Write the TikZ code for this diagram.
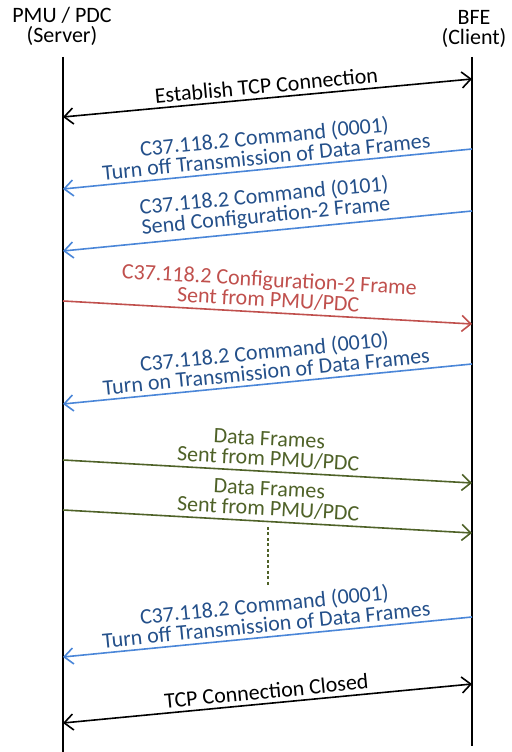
\documentclass[tikz,border=0pt]{standalone}
\usepackage{fontspec}
\setmainfont{Carlito}
\usetikzlibrary{arrows.meta}
\definecolor{cmdline}{HTML}{4A86D8}
\definecolor{cmdtext}{HTML}{24508A}
\definecolor{cfgred}{HTML}{C0504D}
\definecolor{datagreen}{HTML}{4F6228}
\newcommand\msgfont{\fontsize{22bp}{20bp}\selectfont\lineskiplimit=-20bp\relax}
\begin{document}
\begin{tikzpicture}[>={Straight Barb[length=9bp,width=16bp]},line join=bevel,
  font=\msgfont,
  life/.style={black,line width=1.6bp},
  msg/.style={line width=1.6bp},
  lbl/.style={midway,sloped,above,align=center,inner sep=4bp},
  cmd/.style={msg,cmdline,->},
  cfg/.style={msg,cfgred,->},
  dat/.style={msg,datagreen,->},
  tcp/.style={msg,black,<->},
]
%%
\useasboundingbox (0bp,0bp) rectangle (512bp,752bp);
\node (pmu) at (62bp,726bp) [align=center] {PMU / PDC\\(Server)};
  \node (bfe) at (474bp,723bp) [align=center] {BFE\\(Client)};
%
\coordinate (pmu_top) at (63bp,695bp);
  \coordinate (pmu_bot) at (63bp,0bp);
  \coordinate (bfe_top) at (472bp,695bp);
  \coordinate (bfe_bot) at (472bp,6bp);
  \draw [life] (pmu_top) -- (pmu_bot);
  \draw [life] (bfe_top) -- (bfe_bot);
%
\coordinate (pmu_1) at (63bp,635bp);   \coordinate (bfe_1) at (472bp,673bp);
  \coordinate (bfe_2) at (472bp,603bp);  \coordinate (pmu_2) at (63bp,563bp);
  \coordinate (bfe_3) at (472bp,541bp);  \coordinate (pmu_3) at (63bp,501bp);
  \coordinate (pmu_4) at (63bp,451bp);   \coordinate (bfe_4) at (472bp,428bp);
  \coordinate (bfe_5) at (472bp,388bp);  \coordinate (pmu_5) at (63bp,348bp);
  \coordinate (pmu_6) at (63bp,292bp);   \coordinate (bfe_6) at (472bp,269bp);
  \coordinate (pmu_7) at (63bp,242bp);   \coordinate (bfe_7) at (472bp,219bp);
  \coordinate (bfe_9) at (472bp,135bp);  \coordinate (pmu_9) at (63bp,95bp);
  \coordinate (pmu_10) at (63bp,29bp);   \coordinate (bfe_10) at (472bp,68bp);
  \coordinate (dots_top) at (268bp,225bp);
  \coordinate (dots_bot) at (268bp,165bp);
%
\draw [tcp] (pmu_1) -- (bfe_1) node [lbl] (msg_1) {Establish TCP Connection};
  \draw [cmd] (bfe_2) -- (pmu_2) node [lbl,text=cmdtext] (msg_2) {C37.118.2 Command (0001)\\Turn off Transmission of Data Frames};
  \draw [cmd] (bfe_3) -- (pmu_3) node [lbl,text=cmdtext] (msg_3) {C37.118.2 Command (0101)\\Send Configuration-2 Frame};
  \draw [cfg] (pmu_4) -- (bfe_4) node [lbl] (msg_4) {C37.118.2 Configuration-2 Frame\\Sent from PMU/PDC};
  \draw [cmd] (bfe_5) -- (pmu_5) node [lbl,text=cmdtext] (msg_5) {C37.118.2 Command (0010)\\Turn on Transmission of Data Frames};
  \draw [dat] (pmu_6) -- (bfe_6) node [lbl] (msg_6) {Data Frames\\Sent from PMU/PDC};
  \draw [dat] (pmu_7) -- (bfe_7) node [lbl] (msg_7) {Data Frames\\Sent from PMU/PDC};
  \draw [datagreen,line width=1.6bp,dash pattern=on 3bp off 2.5bp] (dots_top) -- (dots_bot);
  \draw [cmd] (bfe_9) -- (pmu_9) node [lbl,text=cmdtext] (msg_9) {C37.118.2 Command (0001)\\Turn off Transmission of Data Frames};
  \draw [tcp] (pmu_10) -- (bfe_10) node [lbl] (msg_10) {TCP Connection Closed};
%
\end{tikzpicture}
\end{document}
